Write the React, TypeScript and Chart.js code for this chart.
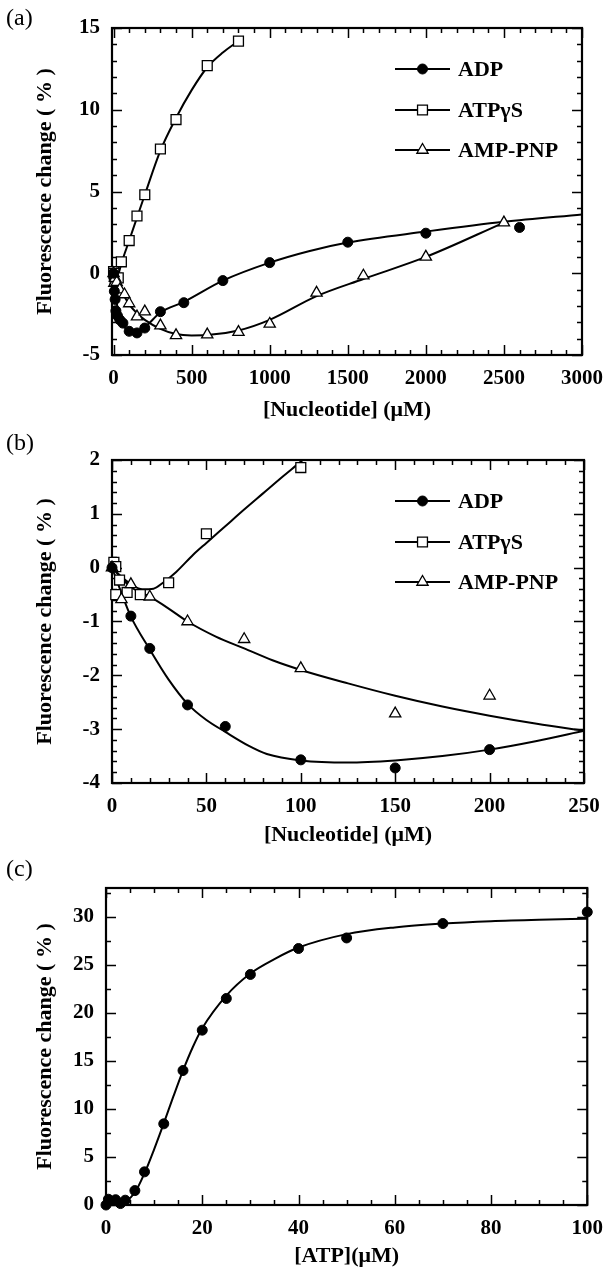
import { useEffect, useRef } from "react";
import { Chart, registerables } from "chart.js";
import { drawPoint } from "chart.js/helpers";

Chart.register(...registerables);

const SERIF = '"Liberation Serif", "Times New Roman", Times, serif';
const PAGE_W = 614;

// ---------- panel (a): full nucleotide range ----------
const adpAx = [0, 5, 10, 15, 25, 40, 60, 100, 150, 200, 300, 450, 700, 1000, 1500, 2000, 2600];
const adpAy = [0, -1.1, -1.6, -2.3, -2.6, -2.85, -3.05, -3.55, -3.65, -3.35, -2.35, -1.8, -0.45, 0.65, 1.9, 2.45, 2.8];
const atpgsAx = [0, 2, 5, 10, 15, 30, 50, 100, 150, 200, 300, 400, 600, 800];
const atpgsAy = [0.1, 0.0, -0.2, -0.45, -0.5, -0.28, 0.7, 2.0, 3.5, 4.8, 7.6, 9.4, 12.7, 14.2];
const ampAx = [0, 5, 10, 20, 40, 70, 100, 150, 200, 300, 400, 600, 800, 1000, 1300, 1600, 2000, 2500];
const ampAy = [0, -0.6, -0.3, -0.55, -1.0, -1.3, -1.85, -2.65, -2.35, -3.2, -3.8, -3.75, -3.6, -3.1, -1.2, -0.15, 1.0, 3.1];

// fitted curves, panel (a)
const adpFitAx = [0, 10, 20, 40, 60, 100, 140, 200, 300, 450, 700, 1000, 1250, 1500, 2000, 2500, 3000];
const adpFitAy = [0, -1.0, -1.8, -2.7, -3.15, -3.55, -3.6, -3.3, -2.4, -1.75, -0.45, 0.65, 1.35, 1.88, 2.55, 3.15, 3.6];
const atpgsFitAx = [0, 10, 17, 30, 50, 100, 150, 200, 300, 400, 500, 600, 700, 800];
const atpgsFitAy = [0, -0.3, -0.4, -0.1, 0.6, 2.0, 3.4, 4.8, 7.5, 9.5, 11.2, 12.6, 13.5, 14.2];
const ampFitAx = [0, 20, 50, 100, 150, 200, 300, 400, 500, 600, 800, 1000, 1300, 1600, 2000, 2500];
const ampFitAy = [0, -0.55, -1.1, -1.9, -2.45, -2.85, -3.4, -3.72, -3.8, -3.78, -3.5, -2.85, -1.4, -0.35, 1.0, 3.1];

// ---------- panel (b): low nucleotide range ----------
const adpBx = [0, 10, 20, 40, 60, 100, 150, 200];
const adpBy = [0, -0.9, -1.5, -2.55, -2.95, -3.57, -3.72, -3.38];
const atpgsBx = [1, 2, 2, 4, 8, 15, 30, 50, 100];
const atpgsBy = [0.1, 0.02, -0.5, -0.23, -0.46, -0.5, -0.28, 0.63, 1.86];
const ampBx = [0, 5, 10, 20, 40, 70, 100, 150, 200];
const ampBy = [0, -0.59, -0.31, -0.54, -1.0, -1.33, -1.87, -2.71, -2.38];

const adpFitBx = [0, 5, 10, 20, 30, 40, 50, 60, 72, 82, 100, 125, 150, 175, 200, 225, 250];
const adpFitBy = [0, -0.47, -0.91, -1.52, -2.08, -2.53, -2.83, -3.05, -3.3, -3.46, -3.58, -3.62, -3.58, -3.5, -3.38, -3.22, -3.03];
const atpgsFitBx = [0, 5, 11, 16, 22, 27, 34, 43, 50, 60, 70, 80, 90, 100, 104];
const atpgsFitBy = [0, -0.17, -0.33, -0.4, -0.39, -0.28, -0.08, 0.24, 0.46, 0.77, 1.08, 1.38, 1.68, 1.97, 2.09];
const ampFitBx = [0, 10, 20, 30, 40, 55, 70, 85, 100, 125, 150, 175, 200, 225, 250];
const ampFitBy = [0, -0.36, -0.54, -0.76, -1.0, -1.28, -1.5, -1.72, -1.9, -2.15, -2.38, -2.58, -2.75, -2.9, -3.03];

// ---------- panel (c): ATP titration ----------
const atpCx = [0, 0.5, 2, 3, 4, 6, 8, 12, 16, 20, 25, 30, 40, 50, 70, 100];
const atpCy = [0, 0.6, 0.55, 0.15, 0.5, 1.5, 3.45, 8.45, 14.0, 18.2, 21.5, 24.0, 26.7, 27.8, 29.3, 30.5];
const atpFitCx = [0, 2, 4, 6, 8, 10, 12, 14, 16, 18, 20, 25, 30, 35, 40, 50, 60, 70, 80, 90, 100];
const atpFitCy = [0.1, 0.15, 0.35, 1.3, 3.3, 5.8, 8.5, 11.3, 14.0, 16.4, 18.4, 21.8, 24.1, 25.6, 26.8, 28.2, 28.9, 29.3, 29.55, 29.7, 29.8];

// ---------- tick labels ----------
const xTicksA = [0, 500, 1000, 1500, 2000, 2500, 3000];
const yTicksA = [-5, 0, 5, 10, 15];
const xTicksB = [0, 50, 100, 150, 200, 250];
const yTicksB = [-4, -3, -2, -1, 0, 1, 2];
const xTicksC = [0, 20, 40, 60, 80, 100];
const yTicksC = [0, 5, 10, 15, 20, 25, 30];

const seriesNames = ["ADP", "ATP\u03b3S", "AMP-PNP"];
const yTitle = "Fluorescence change ( % )";

type Marker = "circle" | "rect" | "triangle";

const MARKS: Record<Marker, any> = {
  circle: { pointStyle: "circle", radius: 5, fill: "#000", borderWidth: 1 },
  rect: { pointStyle: "rect", radius: 7, fill: "#fff", borderWidth: 1.3 },
  triangle: { pointStyle: "triangle", radius: 6.5, fill: "#fff", borderWidth: 1.3 },
};

const pts = (xs: number[], ys: number[]) => xs.map((x, i) => ({ x, y: ys[i] }));

function markerSet(label: string, xs: number[], ys: number[], m: Marker) {
  const s = MARKS[m];
  return {
    label,
    data: pts(xs, ys),
    showLine: false,
    clip: false,
    order: 1,
    pointStyle: s.pointStyle,
    pointRadius: s.radius,
    pointHoverRadius: s.radius,
    pointBackgroundColor: s.fill,
    pointBorderColor: "#000",
    pointBorderWidth: s.borderWidth,
  };
}

function curveSet(label: string, xs: number[], ys: number[]) {
  return {
    label,
    data: pts(xs, ys),
    showLine: true,
    borderColor: "#000",
    borderWidth: 2,
    pointRadius: 0,
    pointHoverRadius: 0,
    cubicInterpolationMode: "monotone",
    fill: false,
    order: 2,
  };
}

const isMultiple = (v: number, step: number) => Math.abs(v / step - Math.round(v / step)) < 1e-6;

// Box frame with inward major/minor ticks on all four sides, plus the panel tag.
const framePlugin = {
  id: "frame",
  beforeDatasetsDraw(chart: any, _args: any, o: any) {
    const { ctx, chartArea: a, scales } = chart;
    const xs = scales.x;
    const ys = scales.y;
    ctx.save();
    ctx.strokeStyle = "#000";
    ctx.lineWidth = 1.5;
    ctx.beginPath();
    for (let v = Math.ceil(xs.min / o.xMinor) * o.xMinor; v <= xs.max + 1e-9; v += o.xMinor) {
      const px = Math.round(xs.getPixelForValue(v)) + 0.5;
      const len = isMultiple(v, o.xMajor) ? 10 : 5;
      ctx.moveTo(px, a.bottom);
      ctx.lineTo(px, a.bottom - len);
      ctx.moveTo(px, a.top);
      ctx.lineTo(px, a.top + len);
    }
    for (let v = Math.ceil(ys.min / o.yMinor) * o.yMinor; v <= ys.max + 1e-9; v += o.yMinor) {
      const py = Math.round(ys.getPixelForValue(v)) + 0.5;
      const len = isMultiple(v, o.yMajor) ? 10 : 5;
      ctx.moveTo(a.left, py);
      ctx.lineTo(a.left + len, py);
      ctx.moveTo(a.right, py);
      ctx.lineTo(a.right - len, py);
    }
    ctx.stroke();
    ctx.lineWidth = 2.2;
    ctx.strokeRect(a.left, a.top, a.right - a.left, a.bottom - a.top);

    ctx.fillStyle = "#000";
    ctx.font = `24px ${SERIF}`;
    ctx.textAlign = "left";
    ctx.textBaseline = "middle";
    ctx.fillText(o.tag, o.tagX, o.tagY);
    ctx.restore();
  },
};

// Line-and-marker key drawn inside the plot box.
const keyPlugin = {
  id: "key",
  afterDatasetsDraw(chart: any, _args: any, o: any) {
    if (!o || !o.items) return;
    const { ctx, chartArea: a } = chart;
    ctx.save();
    o.items.forEach((it: { label: string; marker: Marker }, i: number) => {
      const y = a.top + o.rows[i];
      ctx.strokeStyle = "#000";
      ctx.lineWidth = 2;
      ctx.beginPath();
      ctx.moveTo(o.x0, y);
      ctx.lineTo(o.x1, y);
      ctx.stroke();
      const s = MARKS[it.marker];
      ctx.fillStyle = s.fill;
      ctx.lineWidth = s.borderWidth;
      drawPoint(ctx, { pointStyle: s.pointStyle, radius: s.radius, borderWidth: s.borderWidth, rotation: 0 } as any, (o.x0 + o.x1) / 2, y);
      ctx.fillStyle = "#000";
      ctx.font = `bold 22px ${SERIF}`;
      ctx.textAlign = "left";
      ctx.textBaseline = "middle";
      ctx.fillText(it.label, o.textX, y + 1);
    });
    ctx.restore();
  },
};

interface AxisSpec {
  min: number;
  max: number;
  ticks: number[];
  minor: number;
  major: number;
  title: string;
}

interface PanelSpec {
  top: number;
  height: number;
  area: { left: number; right: number; top: number; bottom: number };
  x: AxisSpec;
  y: AxisSpec;
  datasets: any[];
  tag: string;
  tagY: number;
  withKey: boolean;
}

const tickFont = { family: SERIF, size: 21, weight: "bold" as const };
const titleFont = { family: SERIF, size: 22, weight: "bold" as const };

function buildConfig(p: PanelSpec): any {
  return {
    type: "scatter",
    data: { datasets: p.datasets },
    options: {
      responsive: false,
      animation: false,
      devicePixelRatio: 1,
      events: [],
      layout: { padding: { top: p.area.top, right: PAGE_W - p.area.right, bottom: 0, left: 0 } },
      plugins: {
        legend: { display: false },
        tooltip: { enabled: false },
        frame: {
          xMinor: p.x.minor,
          xMajor: p.x.major,
          yMinor: p.y.minor,
          yMajor: p.y.major,
          tag: p.tag,
          tagX: 6,
          tagY: p.tagY,
        },
        key: p.withKey
          ? {
              x0: 395,
              x1: 450,
              textX: 458,
              rows: [41, 82, 122],
              items: [
                { label: seriesNames[0], marker: "circle" },
                { label: seriesNames[1], marker: "rect" },
                { label: seriesNames[2], marker: "triangle" },
              ],
            }
          : {},
      },
      scales: {
        x: {
          type: "linear",
          position: "bottom",
          min: p.x.min,
          max: p.x.max,
          grid: { display: false, drawTicks: false },
          border: { display: false },
          ticks: {
            font: tickFont,
            color: "#000",
            padding: 11,
            maxRotation: 0,
            autoSkip: false,
            callback: (v: number) => String(v),
          },
          afterBuildTicks: (s: any) => {
            s.ticks = p.x.ticks.map((v) => ({ value: v }));
          },
          afterFit: (s: any) => {
            s.height = p.height - p.area.bottom;
          },
          title: {
            display: true,
            text: p.x.title,
            font: titleFont,
            color: "#000",
            padding: { top: 0, bottom: 1 },
          },
        },
        y: {
          type: "linear",
          position: "left",
          min: p.y.min,
          max: p.y.max,
          grid: { display: false, drawTicks: false },
          border: { display: false },
          ticks: {
            font: tickFont,
            color: "#000",
            padding: 12,
            autoSkip: false,
            callback: (v: number) => String(v),
          },
          afterBuildTicks: (s: any) => {
            s.ticks = p.y.ticks.map((v) => ({ value: v }));
          },
          afterFit: (s: any) => {
            s.width = p.area.left;
          },
          title: {
            display: true,
            text: yTitle,
            font: titleFont,
            color: "#000",
            padding: { top: 32, bottom: 0 },
          },
        },
      },
    },
    plugins: [framePlugin, keyPlugin],
  };
}

const panels: PanelSpec[] = [
  {
    top: 0,
    height: 425,
    area: { left: 112, right: 586, top: 28, bottom: 355 },
    x: { min: -10, max: 3000, ticks: xTicksA, minor: 100, major: 500, title: "[Nucleotide] (\u03bcM)" },
    y: { min: -5, max: 15, ticks: yTicksA, minor: 1, major: 5, title: yTitle },
    datasets: [
      curveSet("ADP fit", adpFitAx, adpFitAy),
      curveSet("ATP\u03b3S fit", atpgsFitAx, atpgsFitAy),
      curveSet("AMP-PNP fit", ampFitAx, ampFitAy),
      markerSet(seriesNames[0], adpAx, adpAy, "circle"),
      markerSet(seriesNames[2], ampAx, ampAy, "triangle"),
      markerSet(seriesNames[1], atpgsAx, atpgsAy, "rect"),
    ],
    tag: "(a)",
    tagY: 19,
    withKey: true,
  },
  {
    top: 425,
    height: 425,
    area: { left: 112, right: 584, top: 35, bottom: 358 },
    x: { min: 0, max: 250, ticks: xTicksB, minor: 10, major: 50, title: "[Nucleotide] (\u03bcM)" },
    y: { min: -4, max: 2, ticks: yTicksB, minor: 0.2, major: 1, title: yTitle },
    datasets: [
      curveSet("ADP fit", adpFitBx, adpFitBy),
      curveSet("ATP\u03b3S fit", atpgsFitBx, atpgsFitBy),
      curveSet("AMP-PNP fit", ampFitBx, ampFitBy),
      markerSet(seriesNames[0], adpBx, adpBy, "circle"),
      markerSet(seriesNames[2], ampBx, ampBy, "triangle"),
      markerSet(seriesNames[1], atpgsBx, atpgsBy, "rect"),
    ],
    tag: "(b)",
    tagY: 19,
    withKey: true,
  },
  {
    top: 850,
    height: 421,
    area: { left: 106, right: 590, top: 38, bottom: 355 },
    x: { min: 0, max: 100, ticks: xTicksC, minor: 5, major: 20, title: "[ATP](\u03bcM)" },
    y: { min: 0, max: 33, ticks: yTicksC, minor: 2.5, major: 5, title: yTitle },
    datasets: [curveSet("ATP fit", atpFitCx, atpFitCy), markerSet("ATP", atpCx, atpCy, "circle")],
    tag: "(c)",
    tagY: 20,
    withKey: false,
  },
];

function Panel({ spec }: { spec: PanelSpec }) {
  const ref = useRef<HTMLCanvasElement | null>(null);
  useEffect(() => {
    if (!ref.current) return;
    const chart = new Chart(ref.current, buildConfig(spec));
    return () => chart.destroy();
  }, [spec]);
  return (
    <canvas
      ref={ref}
      width={PAGE_W}
      height={spec.height}
      style={{ position: "absolute", left: 0, top: spec.top, display: "block" }}
    />
  );
}

export default function App() {
  return (
    <div
      style={{
        position: "absolute",
        left: 0,
        top: 0,
        width: PAGE_W,
        height: 1271,
        background: "#fff",
        overflow: "hidden",
      }}
    >
      {panels.map((p) => (
        <Panel key={p.tag} spec={p} />
      ))}
    </div>
  );
}
